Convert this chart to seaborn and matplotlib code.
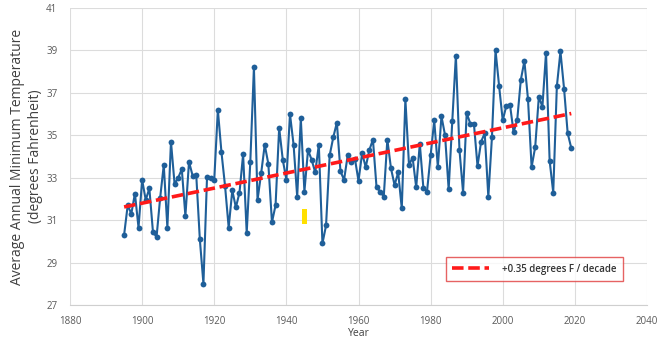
import matplotlib
matplotlib.use("Agg")
import matplotlib.pyplot as plt
from matplotlib.patches import Rectangle
import seaborn as sns
import numpy as np
import pandas as pd

years = list(range(1895, 2020))
temps = [
    30.3, 31.7, 31.3, 32.25, 30.65, 32.9, 31.95, 32.5, 30.45, 30.2,
    32.05, 33.6, 30.65, 34.7, 32.7, 33.0, 33.4, 31.2, 33.75, 33.1,
    33.15, 30.1, 28.0, 33.05, 33.0, 32.9, 36.2, 34.2, 32.6, 30.65,
    32.4, 31.6, 32.3, 34.1, 30.4, 33.75, 38.2, 31.95, 33.2, 34.55,
    33.65, 30.9, 31.7, 35.35, 33.85, 32.9, 36.0, 34.55, 32.1, 35.8,
    32.35, 34.3, 33.85, 33.25, 34.55, 29.9, 30.75, 34.05, 34.9, 35.6,
    33.3, 32.9, 34.05, 33.75, 33.9, 32.85, 34.15, 33.5, 34.3, 34.8,
    32.55, 32.35, 32.1, 34.8, 33.45, 32.65, 33.25, 31.55, 36.7, 33.6,
    33.95, 32.55, 34.6, 32.5, 32.35, 34.05, 35.7, 33.5, 35.9, 35.0,
    32.45, 35.65, 38.75, 34.3, 32.3, 36.05, 35.55, 35.55, 33.55, 34.7,
    35.1, 32.1, 34.9, 39.0, 37.3, 35.7, 36.4, 36.45, 35.15, 35.7,
    37.6, 38.5, 36.7, 33.5, 34.45, 36.8, 36.35, 38.9, 33.8, 32.3,
    37.3, 38.95, 37.2, 35.1, 34.4,
]
x_ticks = [1880, 1900, 1920, 1940, 1960, 1980, 2000, 2020, 2040]
y_ticks = [27, 29, 31, 33, 35, 37, 39, 41]
trend_label = "+0.35 degrees F / decade"
y_label = "Average Annual Minimum Temperature\n(degrees Fahrenheit)"
x_label = "Year"

df = pd.DataFrame({"Year": years, "Temp": temps})

sns.set_theme(style="white")
plt.rcParams["font.family"] = ["Open Sans", "DejaVu Sans"]

fig = plt.figure(figsize=(6.62, 3.43), dpi=100)
ax = fig.add_axes([70 / 662, 1 - 305 / 343, 577 / 662, 297 / 343])

sns.lineplot(data=df, x="Year", y="Temp", ax=ax, color="#1f5f99",
             linewidth=1.5, marker="o", markersize=4.2,
             markeredgewidth=0, zorder=3, legend=False)

sns.regplot(data=df, x="Year", y="Temp", ax=ax, scatter=False, ci=None,
            truncate=True, color="#ff1a1a", label=trend_label,
            line_kws=dict(linestyle=(0, (3.2, 1.3)), linewidth=2.6,
                          zorder=4))

# small yellow mark
ax.add_patch(Rectangle((1944.4, 30.8), 1.4, 0.72, facecolor="#ffe000",
                       edgecolor="none", zorder=2))

ax.set_xlim(1880, 2040)
ax.set_ylim(27, 41)
ax.set_xticks(x_ticks)
ax.set_yticks(y_ticks)
ax.grid(True, color="#dcdcdc", linewidth=0.8)
ax.set_axisbelow(True)
for s in ["top", "right", "left"]:
    ax.spines[s].set_visible(False)
ax.spines["bottom"].set_color("#cfcfcf")
ax.spines["bottom"].set_linewidth(0.8)
ax.tick_params(axis="both", length=0, labelsize=7, colors="#595959")
ax.tick_params(axis="x", pad=8)
ax.tick_params(axis="y", pad=9)

ax.set_xlabel(x_label, fontsize=7.5, color="#404040", labelpad=1)
ax.set_ylabel(y_label, fontsize=10, color="#404040", linespacing=1.3)
ax.yaxis.set_label_coords(-0.047, 0.5)

leg = ax.legend(loc="lower right", bbox_to_anchor=(0.958, 0.081),
                borderaxespad=0, fancybox=False, frameon=True,
                handlelength=3.8, borderpad=0.65, handletextpad=1.3,
                prop={"weight": "semibold", "size": 7})
leg.get_frame().set_edgecolor("#e03c3c")
leg.get_frame().set_linewidth(1.0)
for t in leg.get_texts():
    t.set_color("#333333")

fig.savefig("out.png", dpi=100)
